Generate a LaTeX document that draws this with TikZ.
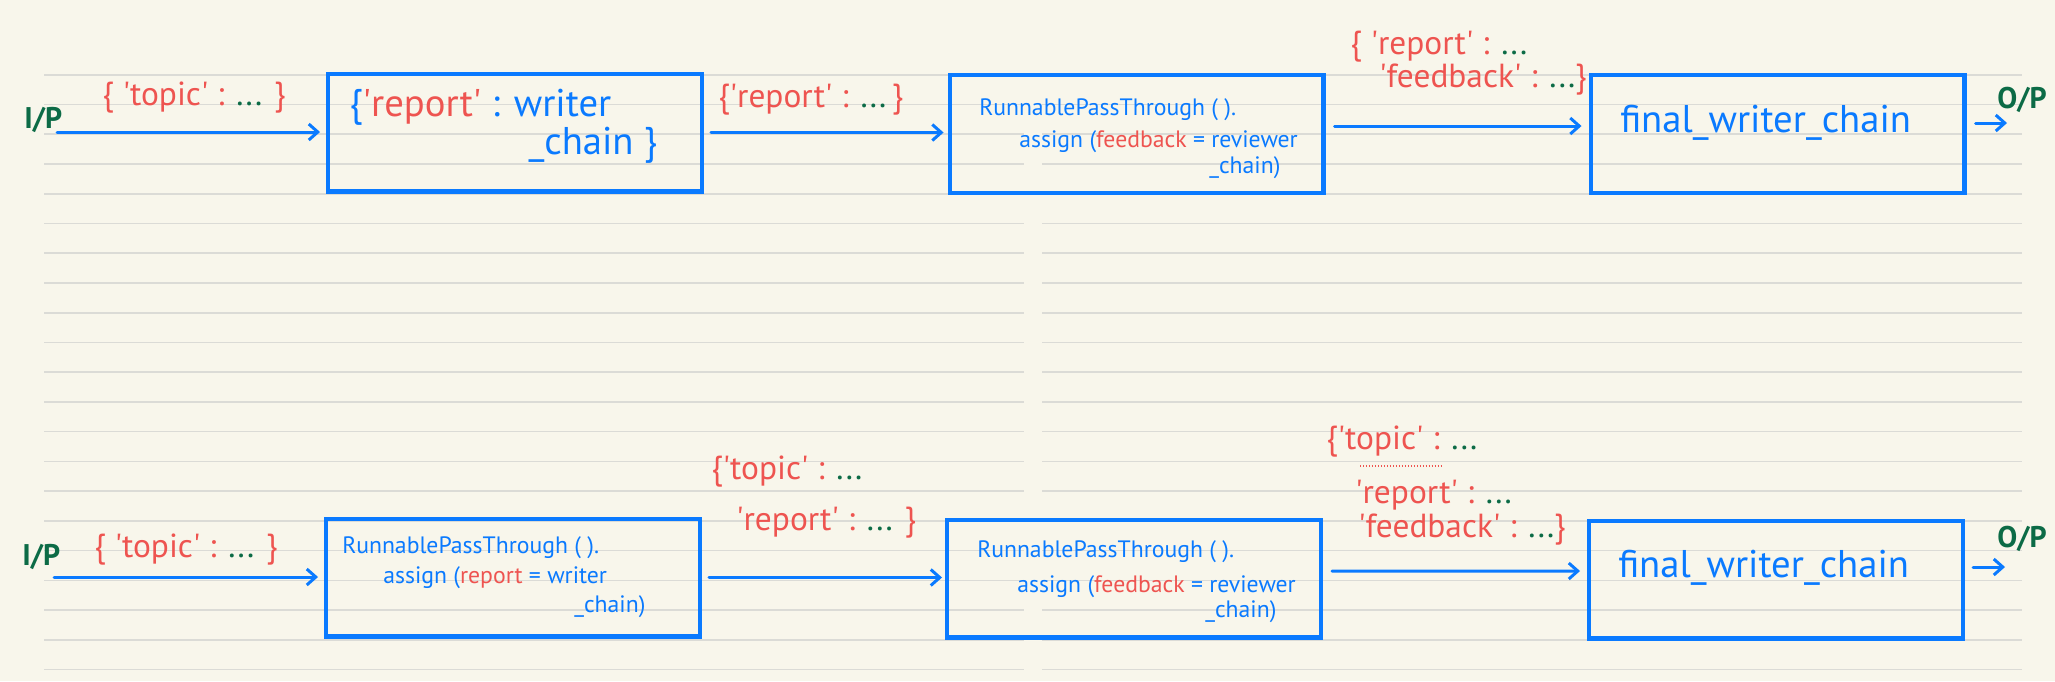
\documentclass[tikz,border=0pt]{standalone}
\usepackage{fontspec}
\setmainfont{PT Sans}
\usetikzlibrary{arrows.meta}
\definecolor{notesblue}{RGB}{10,122,255}
\definecolor{notesred}{RGB}{238,84,80}
\definecolor{notesgreen}{RGB}{12,107,70}
\definecolor{paper}{RGB}{248,246,235}
\definecolor{ruling}{RGB}{219,219,214}
\newcommand{\q}[1]{\textquotesingle#1\textquotesingle}
\newcommand{\etc}{\textcolor{notesgreen}{...}}
\newcommand{\rd}[1]{\textcolor{notesred}{#1}}
\begin{document}
\begin{tikzpicture}[x=0.02cm,y=-0.02cm,>={Straight Barb[length=0.18cm,width=0.32cm]},
    box/.style={draw=notesblue,line width=2.3pt,minimum width=7.48cm,minimum height=2.36cm,inner sep=0pt},
    flow/.style={->,draw=notesblue,line width=1.7pt,line cap=round},
    big/.style={anchor=west,inner sep=0pt,text=notesblue,font=\fontsize{22}{18}\selectfont},
    code/.style={anchor=west,inner sep=0pt,text=notesblue,font=\fontsize{13.5}{16}\selectfont},
    keys/.style={anchor=west,inner sep=0pt,text=notesred,font=\fontsize{19}{22}\selectfont},
    io/.style={anchor=west,inner sep=0pt,text=notesgreen,font=\bfseries\fontsize{17}{20}\selectfont}]
    \fill[paper] (0,0) rectangle (2055,681);
    \useasboundingbox (0,0) rectangle (2055,681);
    \foreach \k in {0,...,20}
        \draw[ruling,line width=0.9pt] (44,{74.8+29.74*\k}) -- (1024,{74.8+29.74*\k}) (1042,{74.8+29.74*\k}) -- (2022,{74.8+29.74*\k});

    \node[box] (b1) at (515,132.5) {};
    \node[box] (b2) at (1136.5,134) {};
    \node[box] (b3) at (1777.5,134) {};
    \node[box] (b4) at (513,577.5) {};
    \node[box] (b5) at (1134,578.5) {};
    \node[box] (b6) at (1776,579.5) {};

    \node[io] (ip1) at (24,120) {I/P};
    \node[keys] (k1) at (102,98) {\{ \q{topic} : \etc{} \}};
    \node[big,align=left] (t1) at (349,126) {\{\rd{\q{report}} : writer\\\hspace*{102pt}\_chain \}};
    \node[keys] (k2) at (718,100) {\{\q{report} : \etc\,\}};
    \node[code] (t2a) at (979,110) {RunnablePassThrough ( ).};
    \node[code] (t2b) at (1019,142) {assign (\rd{feedback} = reviewer};
    \node[code] (t2c) at (1209,168) {\_chain)};
    \node[keys] (k3a) at (1350,47) {\{ \q{report} : \etc};
    \node[keys] (k3b) at (1379,80) {\q{feedback} : \etc\}};
    \node[big] (t3) at (1620,123) {final\_writer\_chain};
    \node[io] (op1) at (1997,100) {O/P};

    \node[io] (ip2) at (22,557) {I/P};
    \node[keys] (k4) at (94,550) {\{ \q{topic} : \etc{} \}};
    \node[code] (t4a) at (342,548) {RunnablePassThrough ( ).};
    \node[code] (t4b) at (383,578) {assign (\rd{report} = writer};
    \node[code] (t4c) at (574,607) {\_chain)};
    \node[keys] (k5a) at (711,472) {\{\q{topic} : \etc};
    \node[keys] (k5b) at (736,523) {\q{report} : \etc{} \}};
    \node[code] (t5a) at (977,552) {RunnablePassThrough ( ).};
    \node[code] (t5b) at (1017,587) {assign (\rd{feedback} = reviewer};
    \node[code] (t5c) at (1205,612) {\_chain)};
    \node[keys] (k6a) at (1326,442) {\{\q{topic} : \etc};
    \draw[notesred,line width=0.8pt,dash pattern=on 0.7pt off 1pt] (1360,466) -- (1441,466);
    \node[keys] (k6b) at (1355,495) {\q{report} : \etc};
    \node[keys] (k6c) at (1358,530) {\q{feedback} : \etc\}};
    \node[big] (t6) at (1618,568) {final\_writer\_chain};
    \node[io] (op2) at (1997,539) {O/P};

    \coordinate (in1) at (57,132);
    \coordinate (in2) at (54,577);
    \coordinate (out1) at (2007,123);
    \coordinate (out2) at (2005,567);
    \draw[flow,shorten >=0.12cm] (in1) -- (in1 -| b1.west);
    \draw[flow,shorten <=0.14cm,shorten >=0.08cm] (b1.east) -- (b1.east -| b2.west);
    \draw[flow,shorten <=0.18cm,shorten >=0.14cm] ([yshift=0.16cm]b2.east) -- ([yshift=0.16cm]b3.west);
    \draw[flow,shorten <=0.18cm] (b3.east |- out1) -- (out1);
    \draw[flow,shorten >=0.12cm] (in2) -- (in2 -| b4.west);
    \draw[flow,shorten <=0.14cm,shorten >=0.06cm] (b4.east) -- (b4.east -| b5.west);
    \draw[flow,shorten <=0.18cm,shorten >=0.14cm] ([yshift=0.15cm]b5.east) -- ([yshift=0.17cm]b6.west);
    \draw[flow,shorten <=0.16cm] (b6.east |- out2) -- (out2);
\end{tikzpicture}
\end{document}
